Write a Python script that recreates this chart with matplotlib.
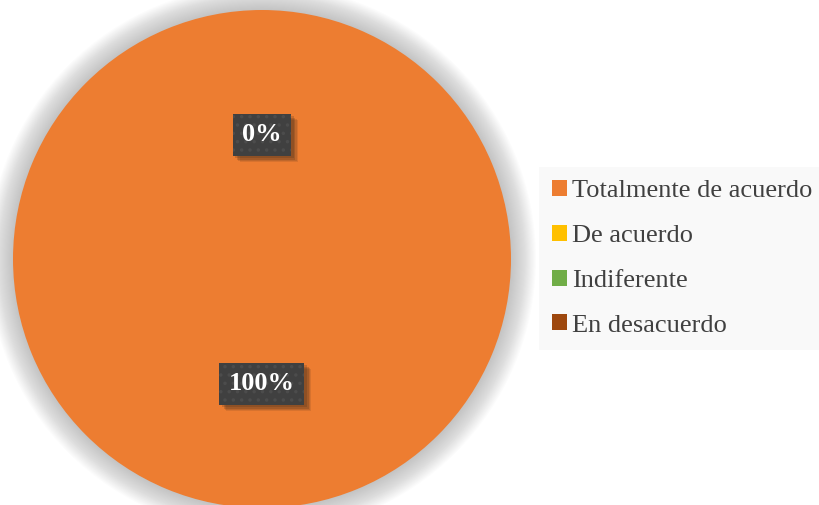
import matplotlib
matplotlib.use('Agg')
import matplotlib.pyplot as plt
import matplotlib.patheffects as pe
from matplotlib.patches import Circle, Patch

categorias = ['Totalmente de acuerdo', 'De acuerdo', 'Indiferente', 'En desacuerdo']
valores = [100, 0, 0, 0]
colores = ['#ED7D31', '#FFC000', '#70AD47', '#9E480E']
etiquetas = ['100%', '0%']

plt.rcParams['font.family'] = ['Liberation Serif', 'DejaVu Serif']
plt.rcParams['hatch.linewidth'] = 1.3


class BoxShadow(pe.AbstractPathEffect):
    # plain soft-ish shadow, without the hatch of the box
    def __init__(self, steps):
        super().__init__()
        self.steps = steps

    def draw_path(self, renderer, gc, tpath, affine, rgbFace=None):
        for (dx, dy, a) in self.steps:
            gc0 = renderer.new_gc()
            gc0.copy_properties(gc)
            gc0.set_hatch(None)
            gc0.set_linewidth(0)
            gc0.set_alpha(a)
            off = renderer.points_to_pixels(1.0)
            tr = affine + matplotlib.transforms.Affine2D().translate(dx * off, dy * off)
            renderer.draw_path(gc0, tpath, tr, (0.23, 0.16, 0.1))
            gc0.restore()


fig = plt.figure(figsize=(8.2, 5.05), dpi=100)
W, H = 820, 505
cx, cy, r = 262, 246, 249
lim = 1.15
size = 2 * lim * r
ax = fig.add_axes([(cx - lim * r) / W, (cy - lim * r) / H, size / W, size / H])

# soft glow round the pie
n = 24
for i in range(n):
    rad = 1.0 + 0.1 * (1 - i / n)
    ax.add_patch(Circle((0, 0), rad, color='#a0a0a0', alpha=0.03, lw=0, zorder=0))

wedges, _ = ax.pie(valores, colors=colores, startangle=90, counterclock=False,
                   radius=1.0, wedgeprops=dict(linewidth=0))
for w in wedges:
    w.set_zorder(2)

# data labels: 100% slice at bottom, the 0% ones stacked at the top
pos = [(0, -0.5), (0, 0.5)]
for (x, y), t in zip(pos, etiquetas):
    txt = ax.text(x, y, t, ha='center', va='center', fontsize=19, fontweight='bold',
                  color='white', zorder=5,
                  bbox=dict(boxstyle='square,pad=0.36', facecolor='#404040',
                            edgecolor='#4c4c4c', linewidth=0, hatch='..'))
    txt.get_bbox_patch().set_path_effects([
        BoxShadow([(5, -5, 0.12), (4, -4, 0.15), (3, -3, 0.2), (2, -2, 0.2)]),
        pe.Normal()])

ax.set_xlim(-lim, lim)
ax.set_ylim(-lim, lim)
ax.set_aspect('equal')
ax.axis('off')

handles = [Patch(facecolor=c, edgecolor='none') for c in colores]
leg = fig.legend(handles, categorias, loc='upper left',
                 bbox_to_anchor=(539 / W, 1 - 167 / H), fontsize=19,
                 frameon=True, fancybox=False, handlelength=0.55, handleheight=0.55,
                 handletextpad=0.2, labelspacing=0.85, borderpad=0.5,
                 borderaxespad=0)
leg.get_frame().set_facecolor('#F8F8F8')
leg.get_frame().set_edgecolor('none')
for t in leg.get_texts():
    t.set_color('#404040')

fig.savefig('out.png', dpi=100)
